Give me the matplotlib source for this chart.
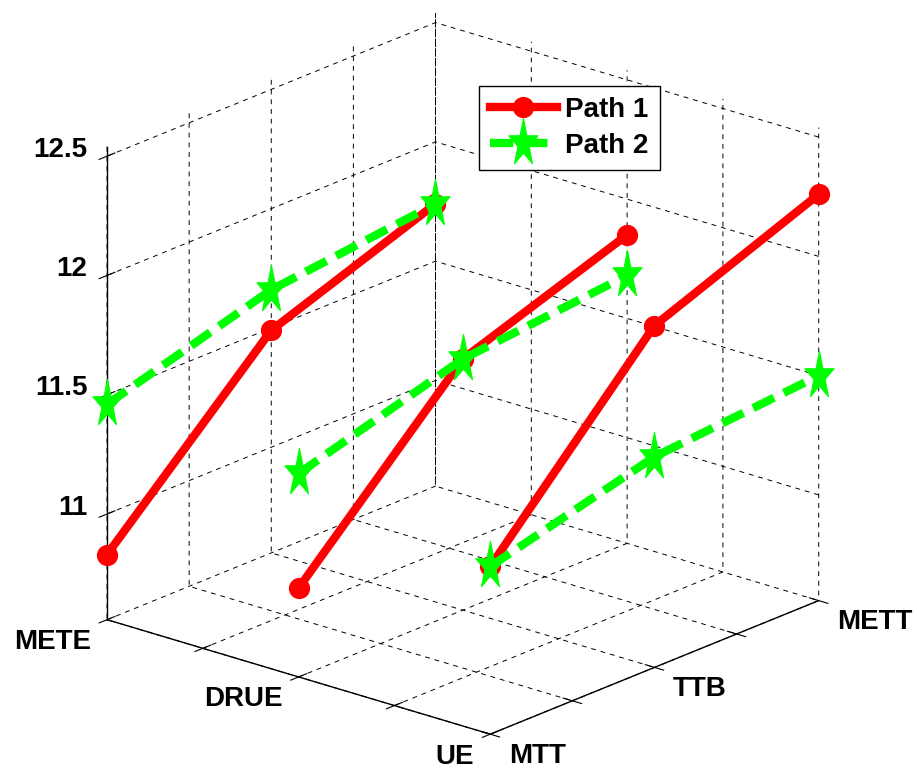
import matplotlib
matplotlib.use("Agg")
import matplotlib.pyplot as plt
from matplotlib.path import Path
import numpy as np

plt.rcParams['font.family'] = ['Liberation Sans', 'DejaVu Sans']
plt.rcParams['font.weight'] = 'bold'

# categories
x_labels = ['METE', 'DRUE', 'UE']
y_labels = ['MTT', 'TTB', 'METT']
x_pos = [1, 2, 3]
y_pos = [1, 2, 3]

# values per x-category, along MTT -> TTB -> METT
path1 = {
    'METE': [10.83, 11.49, 11.74],
    'DRUE': [10.93, 11.61, 11.85],
    'UE':   [11.26, 11.99, 12.26],
}
path2 = {
    'METE': [11.46, 11.66, 11.74],
    'DRUE': [11.41, 11.61, 11.68],
    'UE':   [11.26, 11.44, 11.50],
}

z_ticks = [11, 11.5, 12, 12.5]
z_tick_labels = ['11', '11.5', '12', '12.5']
z_lim = (10.557, 12.54)

# narrow five-pointed star marker
ang = np.deg2rad(90 + 36 * np.arange(10))
rad = np.where(np.arange(10) % 2 == 0, 1.0, 0.382)
star_verts = np.column_stack([rad * np.cos(ang), 1.63 * rad * np.sin(ang)])
star_verts = np.vstack([star_verts, star_verts[:1]])
star = Path(star_verts, closed=True)

fig = plt.figure(figsize=(9.17, 7.68), dpi=100)
ax = fig.add_axes([-6 / 917, 0, 1, 1], projection='3d', proj_type='ortho')
ax.view_init(elev=20.4, azim=-49.4)
ax.set_box_aspect((1, 1, 1), zoom=1.105)

for i, name in enumerate(x_labels):
    xs = [x_pos[i]] * len(y_pos)
    ax.plot(xs, y_pos, path1[name], color='#ff0000', lw=6, marker='o',
            ms=9.5, mfc='none', mec='#ff0000', mew=5.8,
            label='Path 1' if i == 0 else None)
for i, name in enumerate(x_labels):
    xs = [x_pos[i]] * len(y_pos)
    ax.plot(xs, y_pos, path2[name], color='#00ff00', lw=6,
            linestyle=(0, (2.8, 1.3)), dash_capstyle='butt', marker=star,
            ms=36, mfc='#00ff00', mec='#00ff00', mew=0.8,
            label='Path 2' if i == 0 else None)

ax.set_xlim(1, 3)
ax.set_ylim(1, 3)
ax.set_zlim(*z_lim)

ax.set_xticks([1, 1.5, 2, 2.5, 3])
ax.set_xticklabels([x_labels[0], '', x_labels[1], '', x_labels[2]])
ax.set_yticks([1, 1.5, 2, 2.5, 3])
ax.set_yticklabels([y_labels[0], '', y_labels[1], '', y_labels[2]])
ax.set_zticks(z_ticks)
ax.set_zticklabels(z_tick_labels)
ax.zaxis.set_ticks_position('lower')
ax.zaxis.set_tick_params(pad=0)
ax.xaxis.set_tick_params(pad=6)
ax.yaxis.set_tick_params(pad=6)

for axis in (ax.xaxis, ax.yaxis, ax.zaxis):
    axis.set_pane_color((1, 1, 1, 0))
    axis.pane.set_edgecolor((1, 1, 1, 0))
    axis._axinfo['grid'].update(color='k', linewidth=0.7, linestyle=(0, (5, 5)))
    axis.line.set_color('k')
    axis.line.set_linewidth(1.0)
    axis._axinfo['tick']['inward_factor'] = 0.3
    axis._axinfo['tick']['outward_factor'] = 0.3
    for lab in axis.get_ticklabels():
        lab.set_fontsize(20)
        lab.set_fontweight('bold')
        lab.set_va('baseline')

for lab in ax.xaxis.get_ticklabels():
    lab.set_ha('right')
for lab in ax.yaxis.get_ticklabels():
    lab.set_ha('left')
for lab in ax.zaxis.get_ticklabels():
    lab.set_ha('right')

leg = ax.legend(loc='upper left', bbox_to_anchor=(479 / 917, 1 - 86 / 768),
                bbox_transform=fig.transFigure, fontsize=20, numpoints=1,
                fancybox=False, framealpha=1, edgecolor='k',
                handlelength=2.4, handletextpad=0.3, borderpad=0.4,
                labelspacing=0.35, borderaxespad=0)
leg.get_frame().set_linewidth(1.0)

fig.savefig('out.png', dpi=100)
